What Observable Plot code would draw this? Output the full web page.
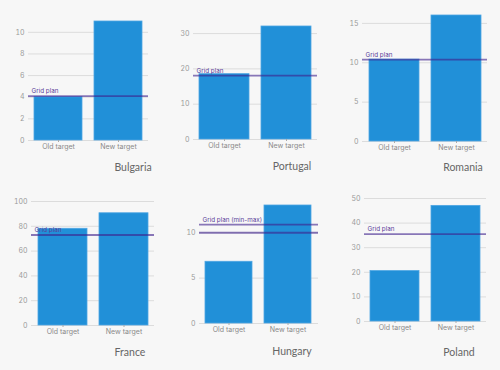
<!DOCTYPE html>
<html>
<head>
<meta charset="utf-8">
<script src="https://cdn.jsdelivr.net/npm/d3@7"></script>
<script src="https://cdn.jsdelivr.net/npm/@observablehq/plot@0.6"></script>
<style>
  html, body { margin: 0; padding: 0; background: #f7f7f7; }
  #root { position: relative; width: 500px; height: 370px; background: #f7f7f7; overflow: hidden; }
  .panel { position: absolute; }
  .country { position: absolute; font-family: Lato, "Open Sans", sans-serif; font-size: 10.5px; color: #666; transform: translate(-50%, -50%); white-space: nowrap; }
</style>
</head>
<body>
<div id="root"></div>
<script>
// ---- data ----
const countries = ["Bulgaria", "Portugal", "Romania", "France", "Hungary", "Poland"];
const categories = ["Old target", "New target"];
const oldTarget = [4.0, 18.5, 10.4, 78, 6.8, 20.5];
const newTarget = [11, 32, 16, 90.5, 13, 47];
const gridPlanMin = [4.1, 18.1, 10.4, 73, 10, 35.5];
const gridPlanMax = [null, null, null, null, 10.9, null];
const gridPlanLabels = ["Grid plan", "Grid plan", "Grid plan", "Grid plan", "Grid plan (min-max)", "Grid plan"];
const yMax = [11, 32, 16, 100, 13, 50];
const yTicks = [
  [0, 2, 4, 6, 8, 10],
  [0, 10, 20, 30],
  [0, 5, 10, 15],
  [0, 20, 40, 60, 80, 100],
  [0, 5, 10],
  [0, 10, 20, 30, 40, 50]
];

// ---- layout (frame edges in page px) ----
const PW = 165, PH = 185;
const layout = [
  {ox: 0,   oy: 0,   left: 28,  right: 148, top: 21,  bottom: 140, lx: 133, ly: 167},
  {ox: 165, oy: 0,   left: 193, right: 317, top: 26,  bottom: 139, lx: 292, ly: 166},
  {ox: 330, oy: 0,   left: 362, right: 487, top: 15,  bottom: 141, lx: 463, ly: 167},
  {ox: 0,   oy: 185, left: 31,  right: 154, top: 201, bottom: 325, lx: 130, ly: 352},
  {ox: 165, oy: 185, left: 199, right: 318, top: 205, bottom: 323, lx: 292, ly: 351},
  {ox: 330, oy: 185, left: 364, right: 486, top: 198, bottom: 321, lx: 459, ly: 352}
];

const root = document.getElementById("root");

countries.forEach((country, i) => {
  const L = layout[i];
  const rows = categories.map((c, j) => ({category: c, value: j === 0 ? oldTarget[i] : newTarget[i]}));
  const lines = [gridPlanMin[i], gridPlanMax[i]].filter(v => v != null);
  const labelY = d3.max(lines);

  const chart = Plot.plot({
    width: PW,
    height: PH,
    marginLeft: L.left - L.ox,
    marginRight: L.ox + PW - L.right,
    marginTop: L.top - L.oy,
    marginBottom: L.oy + PH - L.bottom,
    style: {background: "transparent", fontFamily: "Inter, sans-serif", overflow: "visible"},
    x: {domain: categories, paddingInner: 0.2, paddingOuter: 0.1, axis: null},
    y: {domain: [0, yMax[i]], axis: null},
    marks: [
      Plot.gridY(yTicks[i], {stroke: "#dcdcdc", strokeOpacity: 1, strokeWidth: 1}),
      Plot.axisY(yTicks[i], {label: null, tickSize: 0, tickPadding: 4, fontSize: 7, fill: "#9a9a9a"}),
      Plot.barY(rows, {x: "category", y: "value", fill: "#2190d8", stroke: "#4ea6e3", strokeWidth: 0.8}),
      Plot.axisX({label: null, tickSize: 2, tickPadding: 2, fontSize: 7, fill: "#8a8a8a", stroke: "#aaa"}),
      Plot.ruleY(lines, {stroke: "#3d1f8c", strokeOpacity: 0.6, strokeWidth: 1.8}),
      Plot.text([gridPlanLabels[i]], {frameAnchor: "left", y: () => labelY, dx: 3, dy: -5,
        text: d => d, textAnchor: "start", fontSize: 6.3, fill: "#5b3f9a"})
    ]
  });
  chart.classList.add("panel");
  chart.style.left = L.ox + "px";
  chart.style.top = L.oy + "px";
  root.appendChild(chart);

  const lab = document.createElement("div");
  lab.className = "country";
  lab.textContent = country;
  lab.style.left = L.lx + "px";
  lab.style.top = L.ly + "px";
  root.appendChild(lab);
});
</script>
</body>
</html>
